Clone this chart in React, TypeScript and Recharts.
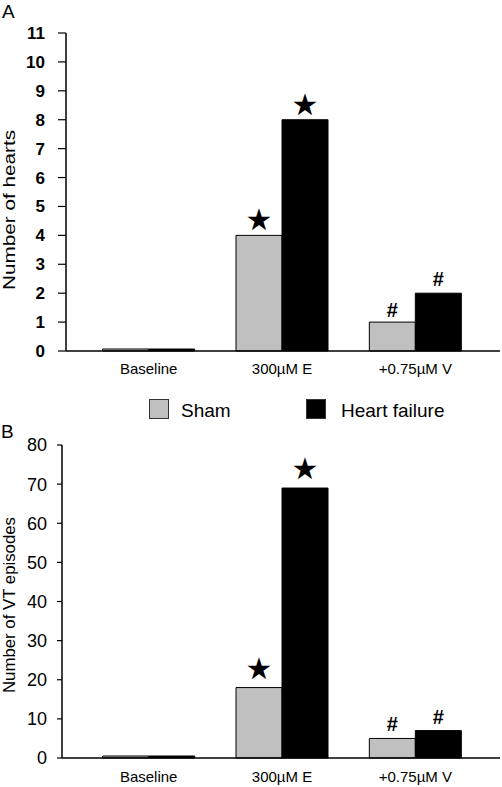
import React from 'react';
import { BarChart, Bar, XAxis, YAxis, LabelList } from 'recharts';

const categories = ['Baseline', '300\u00B5M E', '+0.75\u00B5M V'];
const seriesNames = ['Sham', 'Heart failure'];
const seriesColors = ['#c0c0c0', '#000000'];
const shamHearts = [0, 4, 1];
const hfHearts = [0, 8, 2];
const shamVT = [0, 18, 5];
const hfVT = [0, 69, 7];
const shamMarks = ['', '\u2605', '#'];
const hfMarks = ['', '\u2605', '#'];
const heartsTicks = [0, 1, 2, 3, 4, 5, 6, 7, 8, 9, 10, 11];
const vtTicks = [0, 10, 20, 30, 40, 50, 60, 70, 80];

const FONT = '"Liberation Sans", Arial, Helvetica, sans-serif';

const dataA = categories.map((c, i) => ({
  cat: c,
  sham: shamHearts[i],
  hf: hfHearts[i],
  shamMark: shamMarks[i],
  hfMark: hfMarks[i],
}));
const dataB = categories.map((c, i) => ({
  cat: c,
  sham: shamVT[i],
  hf: hfVT[i],
  shamMark: shamMarks[i],
  hfMark: hfMarks[i],
}));

const makeMark = (starGap: number, hashGap: number) => (props: any) => {
  const { x, y, width, value } = props;
  if (!value) return null;
  const cx = Number(x) + Number(width) / 2;
  if (value === '\u2605') {
    return (
      <text x={cx} y={Number(y) - starGap} textAnchor="middle" fontSize={30} fontFamily='"DejaVu Sans", sans-serif' fill="#000">
        {value}
      </text>
    );
  }
  return (
    <text x={cx} y={Number(y) - hashGap} textAnchor="middle" fontSize={20} fontWeight="bold" fontFamily={FONT} fill="#000">
      {value}
    </text>
  );
};

const YLabel = (cx: number, cy: number, len: number, text: string) => (
  <text
    transform={`translate(${cx},${cy}) rotate(-90)`}
    textAnchor="middle"
    fontSize={16}
    fontFamily={FONT}
    fill="#000"
    textLength={len}
    lengthAdjust="spacingAndGlyphs"
  >
    {text}
  </text>
);

export default function App() {
  return (
    <div style={{ position: 'absolute', left: 0, top: 0, width: 502, height: 787, background: '#fff', overflow: 'hidden' }}>
      <div style={{ position: 'absolute', left: 0, top: 0 }}>
        <BarChart width={502} height={380} data={dataA} margin={{ top: 33, right: 2, left: 0, bottom: 0 }} barCategoryGap="15.5%" barGap={0}>
          <XAxis
            dataKey="cat"
            height={29}
            tickLine={false}
            axisLine={{ stroke: '#000', strokeWidth: 1.5 }}
            tick={{ fill: '#000', fontSize: 15, fontFamily: FONT }}
            tickMargin={6}
            padding={{ left: 16, right: 18 }}
          />
          <YAxis
            width={66}
            domain={[0, 11]}
            ticks={heartsTicks}
            interval={0}
            tickSize={8}
            tickMargin={13}
            axisLine={{ stroke: '#000', strokeWidth: 1.5 }}
            tickLine={{ stroke: '#000', strokeWidth: 1.2 }}
            tick={{ fill: '#000', fontSize: 17, fontWeight: 'bold', fontFamily: FONT }}
            label={{ content: () => YLabel(15, 210, 160, 'Number of hearts') }}
          />
          <Bar dataKey="sham" name={seriesNames[0]} fill={seriesColors[0]} stroke="#000" strokeWidth={1} minPointSize={2} isAnimationActive={false}>
            <LabelList dataKey="shamMark" content={makeMark(5, 5)} />
          </Bar>
          <Bar dataKey="hf" name={seriesNames[1]} fill={seriesColors[1]} stroke="#000" strokeWidth={1} minPointSize={2} isAnimationActive={false}>
            <LabelList dataKey="hfMark" content={makeMark(5, 7)} />
          </Bar>
        </BarChart>
      </div>
      <div style={{ position: 'absolute', left: 0, top: 430 }}>
        <BarChart width={502} height={357} data={dataB} margin={{ top: 15, right: 2, left: 0, bottom: 0 }} barCategoryGap="15.5%" barGap={0}>
          <XAxis
            dataKey="cat"
            height={29}
            tickLine={false}
            axisLine={{ stroke: '#000', strokeWidth: 1.5 }}
            tick={{ fill: '#000', fontSize: 15, fontFamily: FONT }}
            tickMargin={7}
            padding={{ left: 20, right: 18 }}
          />
          <YAxis
            width={62}
            domain={[0, 80]}
            ticks={vtTicks}
            interval={0}
            tickSize={5}
            tickMargin={10}
            axisLine={{ stroke: '#000', strokeWidth: 1.5 }}
            tickLine={{ stroke: '#000', strokeWidth: 1.2 }}
            tick={{ fill: '#000', fontSize: 18, fontFamily: FONT }}
            label={{ content: () => YLabel(15, 175, 176, 'Number of VT episodes') }}
          />
          <Bar dataKey="sham" name={seriesNames[0]} fill={seriesColors[0]} stroke="#000" strokeWidth={1} minPointSize={2} isAnimationActive={false}>
            <LabelList dataKey="shamMark" content={makeMark(9, 7)} />
          </Bar>
          <Bar dataKey="hf" name={seriesNames[1]} fill={seriesColors[1]} stroke="#000" strokeWidth={1} minPointSize={2} isAnimationActive={false}>
            <LabelList dataKey="hfMark" content={makeMark(9, 7)} />
          </Bar>
        </BarChart>
      </div>
      <svg width={502} height={787} style={{ position: 'absolute', left: 0, top: 0, pointerEvents: 'none' }}>
        <text x={2} y={18} fontSize={19} fontFamily={FONT} fill="#000">A</text>
        <text x={1} y={438} fontSize={19} fontFamily={FONT} fill="#000">B</text>
        <rect x={149.5} y={399.5} width={19} height={19} fill={seriesColors[0]} stroke="#333" strokeWidth={1} />
        <text x={181} y={416.5} fontSize={19} fontFamily={FONT} fill="#000">{seriesNames[0]}</text>
        <rect x={306.5} y={399.5} width={19} height={19} fill={seriesColors[1]} stroke="#333" strokeWidth={1} />
        <text x={341} y={416.5} fontSize={19} fontFamily={FONT} fill="#000">{seriesNames[1]}</text>
      </svg>
    </div>
  );
}
